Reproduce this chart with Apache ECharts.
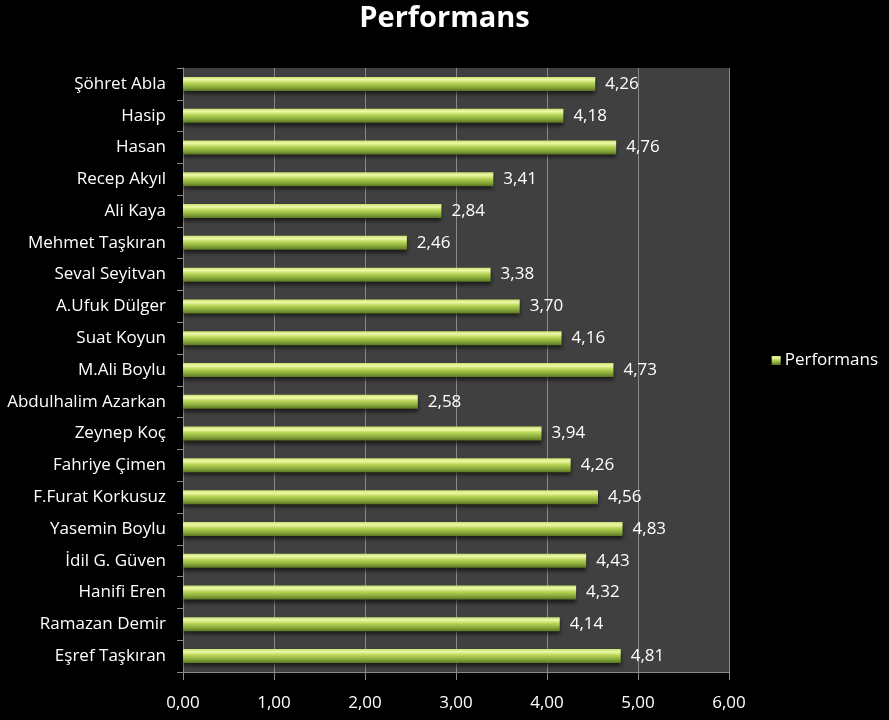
<!DOCTYPE html>
<html>
<head>
<meta charset="utf-8">
<script src="https://cdn.jsdelivr.net/npm/echarts@6/dist/echarts.min.js"></script>
<style>
html,body{margin:0;padding:0;background:#000;}
#chart{width:889px;height:720px;}
</style>
</head>
<body>
<div id="chart"></div>
<script>
const categories = ["Şöhret Abla","Hasip","Hasan","Recep Akyıl","Ali Kaya","Mehmet Taşkıran","Seval Seyitvan","A.Ufuk Dülger","Suat Koyun","M.Ali Boylu","Abdulhalim Azarkan","Zeynep Koç","Fahriye Çimen","F.Furat Korkusuz","Yasemin Boylu","İdil G. Güven","Hanifi Eren","Ramazan Demir","Eşref Taşkıran"];
// bar lengths as drawn in the picture
const values = [4.53,4.18,4.76,3.41,2.84,2.46,3.38,3.70,4.16,4.73,2.58,3.94,4.26,4.56,4.83,4.43,4.32,4.14,4.81];
// data label texts as printed in the picture
const labelTexts = ["4,26","4,18","4,76","3,41","2,84","2,46","3,38","3,70","4,16","4,73","2,58","3,94","4,26","4,56","4,83","4,43","4,32","4,14","4,81"];
const seriesName = "Performans";
const xMin = 0, xMax = 6, xInterval = 1;

const FONT = "'Open Sans',sans-serif";
const fmt = v => Number(v).toFixed(2).replace('.', ',');

const chart = echarts.init(document.getElementById('chart'));
chart.setOption({
  backgroundColor: '#000',
  animation: false,
  title: {
    text: 'Performans', left: 'center', top: -1,
    textStyle: {color: '#fff', fontSize: 29, fontWeight: 'bold', fontFamily: FONT}
  },
  legend: {
    data: [seriesName], right: 6, top: 347, orient: 'vertical',
    itemWidth: 9, itemHeight: 9, icon: 'rect', itemGap: 5,
    textStyle: {color: '#fff', fontSize: 17, fontFamily: FONT, padding: [0, 0, 0, -1]}
  },
  grid: {
    left: 183, right: 160, top: 68, bottom: 48,
    show: true, backgroundColor: '#404040', borderWidth: 0
  },
  xAxis: {
    type: 'value', min: xMin, max: xMax, interval: xInterval,
    axisLine: {show: true, lineStyle: {color: '#8a8a8a'}},
    axisTick: {show: true, length: 8, lineStyle: {color: '#8a8a8a'}},
    axisLabel: {color: '#fff', fontSize: 17, fontFamily: FONT, margin: 23, formatter: fmt},
    splitLine: {show: true, lineStyle: {color: '#8a8a8a', width: 1}}
  },
  yAxis: {
    type: 'category', data: categories, inverse: true,
    axisLine: {show: true, lineStyle: {color: '#8a8a8a'}},
    axisTick: {show: true, length: 6, lineStyle: {color: '#8a8a8a'}},
    axisLabel: {color: '#fff', fontSize: 17, fontFamily: FONT, margin: 17}
  },
  series: [{
    name: seriesName, type: 'bar', data: values, barWidth: 14,
    itemStyle: {
      color: new echarts.graphic.LinearGradient(0, 0, 0, 1, [
        {offset: 0, color: '#c8e070'},
        {offset: 0.2, color: '#eef9a8'},
        {offset: 0.45, color: '#b6d455'},
        {offset: 0.75, color: '#86a83a'},
        {offset: 1, color: '#5a7522'}
      ]),
      shadowColor: 'rgba(0,0,0,0.6)', shadowBlur: 4, shadowOffsetY: 3
    },
    label: {
      show: true, position: 'right', distance: 10,
      color: '#fff', fontSize: 17, fontFamily: FONT,
      formatter: p => labelTexts[p.dataIndex]
    }
  }]
});
</script>
</body>
</html>
